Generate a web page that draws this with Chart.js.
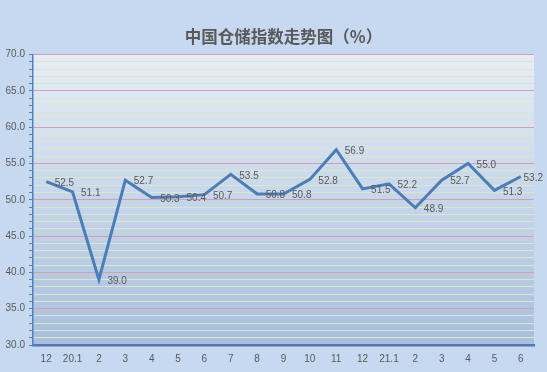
<!DOCTYPE html>
<html>
<head>
<meta charset="utf-8">
<script src="https://cdn.jsdelivr.net/npm/chart.js@4/dist/chart.umd.min.js"></script>
<style>
  html, body { margin: 0; padding: 0; background: #c6d9f0; }
  #wrap { width: 547px; height: 372px; }
</style>
</head>
<body>
<div id="wrap"><canvas id="lineChart" width="547" height="372"></canvas></div>
<script>
// months: Dec 2019 .. Jun 2021
const categories = ['12', '20.1', '2', '3', '4', '5', '6', '7', '8', '9', '10', '11', '12', '21.1', '2', '3', '4', '5', '6'];
const storageIndex = [52.5, 51.1, 39.0, 52.7, 50.3, 50.4, 50.7, 53.5, 50.8, 50.8, 52.8, 56.9, 51.5, 52.2, 48.9, 52.7, 55.0, 51.3, 53.2];
const yMin = 30;
const yMax = 70;
const yMajorStep = 5;

const titleText = '中国仓储指数走势图（%）';
const textColor = '#595959';
const numFont = "'Liberation Sans', Arial, sans-serif";
const numSize = 10;

const backgroundPlugin = {
    id: 'bg',
    beforeDraw(chart) {
        const ctx = chart.ctx;
        const a = chart.chartArea;
        ctx.save();
        ctx.fillStyle = '#c6d9f0';
        ctx.fillRect(0, 0, chart.width, chart.height);
        const g = ctx.createLinearGradient(0, a.top, 0, a.bottom);
        g.addColorStop(0, '#e6edf8');
        g.addColorStop(1, '#a7bfdd');
        ctx.fillStyle = g;
        ctx.fillRect(a.left, a.top, a.right - a.left, a.bottom - a.top);
        ctx.restore();
    },
    afterDraw(chart) {
        // title centred over the plot area
        const ctx = chart.ctx;
        const a = chart.chartArea;
        ctx.save();
        ctx.font = "bold 16.5px 'Noto Sans CJK SC', sans-serif";
        ctx.fillStyle = textColor;
        ctx.textAlign = 'center';
        ctx.textBaseline = 'middle';
        ctx.fillText(titleText, (a.left + a.right) / 2, 37);
        ctx.restore();
    }
};

const valueLabels = {
    id: 'valueLabels',
    afterDatasetsDraw(chart) {
        const ctx = chart.ctx;
        const meta = chart.getDatasetMeta(0);
        ctx.save();
        ctx.font = numSize + 'px ' + numFont;
        ctx.fillStyle = textColor;
        ctx.textAlign = 'left';
        ctx.textBaseline = 'middle';
        meta.data.forEach(function (pt, i) {
            const txt = storageIndex[i].toFixed(1);
            let x = pt.x + 8.5;
            const w = ctx.measureText(txt).width;
            if (x + w > chart.width - 4) x = chart.width - 4 - w; // keep inside, like Excel
            ctx.fillText(txt, x, pt.y + 1.5);
        });
        ctx.restore();
    }
};

const ctx = document.getElementById('lineChart').getContext('2d');
const myChart = new Chart(ctx, {
    type: 'line',
    data: {
        labels: categories,
        datasets: [{
            label: '中国仓储指数',
            data: storageIndex,
            borderColor: '#4a7ebb',
            borderWidth: 3,
            pointRadius: 0,
            tension: 0,
            fill: false
        }]
    },
    options: {
        responsive: false,
        animation: false,
        layout: { padding: { top: 54.5, right: 13, left: 0, bottom: 0 } },
        plugins: {
            legend: { display: false },
            tooltip: { enabled: false },
            title: { display: false }
        },
        scales: {
            x: {
                offset: true,
                grid: { display: false, drawTicks: false },
                border: { display: true, color: '#5279ad', width: 2.5 },
                ticks: {
                    color: textColor,
                    font: { family: numFont, size: numSize },
                    padding: 8,
                    autoSkip: false,
                    maxRotation: 0
                },
                afterFit(scale) { scale.height = 27; }
            },
            y: {
                min: yMin,
                max: yMax,
                grid: {
                    color(c) {
                        return c.tick.value % yMajorStep === 0 ? '#d6a0a8' : '#dde7c6';
                    },
                    lineWidth: 1,
                    drawTicks: true,
                    tickLength: 4,
                    tickColor: '#4f81bd',
                    tickWidth: 1
                },
                border: { display: true, color: '#4f81bd', width: 1.5 },
                ticks: {
                    stepSize: 1,
                    autoSkip: false,
                    padding: 4,
                    color: textColor,
                    font: { family: numFont, size: numSize },
                    callback(v) { return v % yMajorStep === 0 ? v.toFixed(1) : ''; }
                },
                afterFit(scale) { scale.width = 33; }
            }
        }
    },
    plugins: [backgroundPlugin, valueLabels]
});
</script>
</body>
</html>
